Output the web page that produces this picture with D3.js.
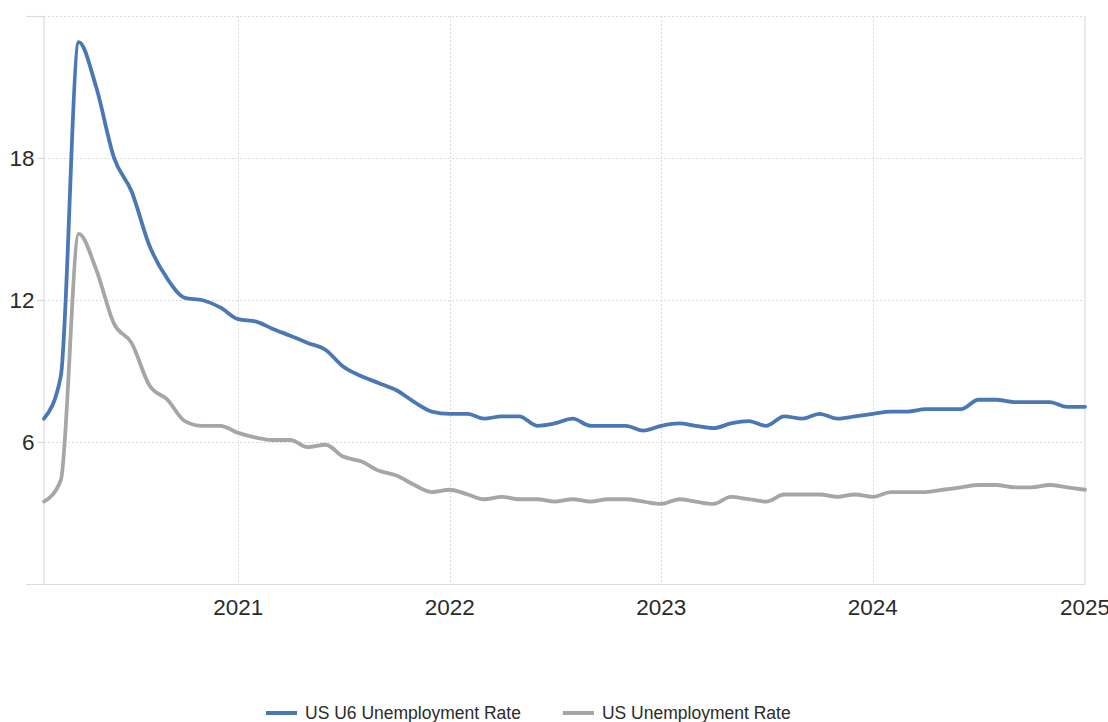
<!DOCTYPE html>
<html>
<head>
<meta charset="utf-8">
<script src="https://cdn.jsdelivr.net/npm/d3@7"></script>
<style>
  html, body { margin: 0; padding: 0; background: #fff; }
  svg { display: block; font-family: "Liberation Sans", Arial, Helvetica, sans-serif; }
</style>
</head>
<body>
<svg id="chart" width="1108" height="722"></svg>
<script>
// Monthly observations, Feb 2020 through Jan 2025 (percent)
const startMonth = "2020-02";
const u6Rate = [
  7.0, 8.8, 22.9, 21.0, 18.0, 16.6, 14.3, 12.9, 12.1, 12.0, 11.7,
  11.2, 11.1, 10.8, 10.5, 10.2, 9.9, 9.2, 8.8, 8.5, 8.2, 7.7, 7.3,
  7.2, 7.2, 7.0, 7.1, 7.1, 6.7, 6.8, 7.0, 6.7, 6.7, 6.7, 6.5,
  6.7, 6.8, 6.7, 6.6, 6.8, 6.9, 6.7, 7.1, 7.0, 7.2, 7.0, 7.1,
  7.2, 7.3, 7.3, 7.4, 7.4, 7.4, 7.8, 7.8, 7.7, 7.7, 7.7, 7.5,
  7.5
];
const headlineRate = [
  3.5, 4.4, 14.8, 13.3, 11.0, 10.2, 8.4, 7.8, 6.9, 6.7, 6.7,
  6.4, 6.2, 6.1, 6.1, 5.8, 5.9, 5.4, 5.2, 4.8, 4.6, 4.2, 3.9,
  4.0, 3.8, 3.6, 3.7, 3.6, 3.6, 3.5, 3.6, 3.5, 3.6, 3.6, 3.5,
  3.4, 3.6, 3.5, 3.4, 3.7, 3.6, 3.5, 3.8, 3.8, 3.8, 3.7, 3.8,
  3.7, 3.9, 3.9, 3.9, 4.0, 4.1, 4.2, 4.2, 4.1, 4.1, 4.2, 4.1,
  4.0
];
const seriesNames = ["US U6 Unemployment Rate", "US Unemployment Rate"];
const seriesColors = ["#4a78b5", "#a6a6a6"];
const yTickValues = [6, 12, 18];
const yDomain = [0, 24];
const xTickYears = [2021, 2022, 2023, 2024, 2025];

const parseMonth = d3.timeParse("%Y-%m");
const first = parseMonth(startMonth);
const months = u6Rate.map((_, i) => d3.timeMonth.offset(first, i));

const svg = d3.select("#chart");
const plot = { left: 44, right: 1085, top: 16, bottom: 584.5 };

const x = d3.scaleTime()
  .domain([first, d3.timeMonth.offset(first, u6Rate.length - 1)])
  .range([plot.left, plot.right]);
const y = d3.scaleLinear().domain(yDomain).range([plot.bottom, plot.top]);

const gridColor = "#dadada";
const axisColor = "#dcdcdc";

// horizontal dotted grid
const grid = svg.append("g");
grid.selectAll("line.h")
  .data(yTickValues.concat([yDomain[1]]))
  .join("line")
  .attr("x1", plot.left).attr("x2", plot.right)
  .attr("y1", d => Math.round(y(d)) + 0.5).attr("y2", d => Math.round(y(d)) + 0.5)
  .attr("stroke", gridColor).attr("stroke-dasharray", "2,2");

// vertical dotted grid at each year
const yearDates = xTickYears.map(yr => new Date(yr, 0, 1));
grid.selectAll("line.v")
  .data(yearDates.slice(0, -1))
  .join("line")
  .attr("x1", d => Math.round(x(d)) + 0.5).attr("x2", d => Math.round(x(d)) + 0.5)
  .attr("y1", plot.top).attr("y2", plot.bottom)
  .attr("stroke", gridColor).attr("stroke-dasharray", "2,2");

// frame: left axis, bottom axis, right edge
const frame = svg.append("g").attr("stroke", axisColor).attr("stroke-width", 1.2);
frame.append("line").attr("x1", plot.left).attr("x2", plot.left).attr("y1", plot.top).attr("y2", plot.bottom);
frame.append("line").attr("x1", plot.right).attr("x2", plot.right).attr("y1", plot.top).attr("y2", plot.bottom);
frame.append("line").attr("x1", 26).attr("x2", plot.right).attr("y1", plot.bottom).attr("y2", plot.bottom);
frame.append("line").attr("x1", 26).attr("x2", plot.left).attr("y1", Math.round(y(yDomain[1])) + 0.5).attr("y2", Math.round(y(yDomain[1])) + 0.5);
frame.selectAll("line.tick")
  .data(yTickValues)
  .join("line")
  .attr("x1", 37).attr("x2", plot.left)
  .attr("y1", d => Math.round(y(d)) + 0.5).attr("y2", d => Math.round(y(d)) + 0.5);

// y labels
svg.append("g").selectAll("text")
  .data(yTickValues)
  .join("text")
  .attr("x", 34.5).attr("y", d => y(d))
  .attr("dy", "0.36em")
  .attr("text-anchor", "end")
  .attr("font-size", 22.5).attr("fill", "#2b2b2b")
  .text(d => d);

// x labels
svg.append("g").selectAll("text")
  .data(yearDates)
  .join("text")
  .attr("x", d => x(d)).attr("y", 615)
  .attr("text-anchor", "middle")
  .attr("font-size", 22.5).attr("fill", "#2b2b2b")
  .text(d => d3.timeFormat("%Y")(d));

// series lines
const line = d3.line()
  .x((d, i) => x(months[i]))
  .y(d => y(d))
  .curve(d3.curveMonotoneX);

[headlineRate, u6Rate].forEach((vals, k) => {
  const idx = k === 0 ? 1 : 0;
  svg.append("path")
    .datum(vals)
    .attr("d", line)
    .attr("fill", "none")
    .attr("stroke", seriesColors[idx])
    .attr("stroke-width", 3.8)
    .attr("stroke-linejoin", "round")
    .attr("stroke-linecap", "round");
});

// legend
const legend = svg.append("g");
let lx = 266;
seriesNames.forEach((name, i) => {
  const g = legend.append("g");
  g.append("line")
    .attr("x1", lx).attr("x2", lx + 31)
    .attr("y1", 713).attr("y2", 713)
    .attr("stroke", seriesColors[i]).attr("stroke-width", 4);
  const t = g.append("text")
    .attr("x", lx + 39).attr("y", 713).attr("dy", "0.36em")
    .attr("font-size", 17.5).attr("fill", "#2b2b2b")
    .text(name);
  lx += 39 + t.node().getComputedTextLength() + 42;
});
</script>
</body>
</html>
